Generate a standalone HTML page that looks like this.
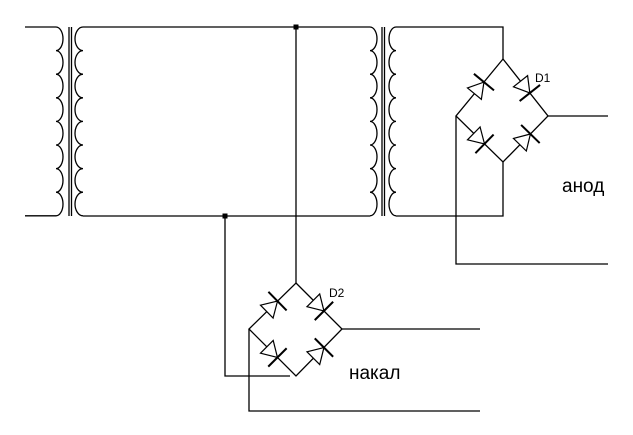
<!DOCTYPE html>
<html><head><meta charset="utf-8"><style>
html,body{margin:0;padding:0;background:#fff;}
svg{display:block;}
text{font-family:"Liberation Sans",Arial,sans-serif;fill:#000;}
</style></head><body>
<svg width="633" height="435" viewBox="0 0 633 435" xmlns="http://www.w3.org/2000/svg">
<g fill="none" stroke="#000" stroke-width="1.3">
<!-- left transformer -->
<path d="M25,27H56 a7,11.8 0 0 1 0,23.6 a7,11.8 0 0 1 0,23.6 a7,11.8 0 0 1 0,23.6 a7,11.8 0 0 1 0,23.6 a7,11.8 0 0 1 0,23.6 a7,11.8 0 0 1 0,23.6 a7,11.8 0 0 1 0,23.6 a7,11.8 0 0 1 0,23.6 H25"/>
<line x1="69" y1="27" x2="69" y2="216"/>
<line x1="71.5" y1="27" x2="71.5" y2="216"/>
<path d="M83,27 a8,11.8 0 0 0 0,23.6 a8,11.8 0 0 0 0,23.6 a8,11.8 0 0 0 0,23.6 a8,11.8 0 0 0 0,23.6 a8,11.8 0 0 0 0,23.6 a8,11.8 0 0 0 0,23.6 a8,11.8 0 0 0 0,23.6 a8,11.8 0 0 0 0,23.6"/>
<line x1="83" y1="27" x2="370" y2="27"/>
<line x1="83" y1="216" x2="370" y2="216"/>
<!-- right transformer -->
<path d="M370,27 a7,11.8 0 0 1 0,23.6 a7,11.8 0 0 1 0,23.6 a7,11.8 0 0 1 0,23.6 a7,11.8 0 0 1 0,23.6 a7,11.8 0 0 1 0,23.6 a7,11.8 0 0 1 0,23.6 a7,11.8 0 0 1 0,23.6 a7,11.8 0 0 1 0,23.6"/>
<line x1="382" y1="27" x2="382" y2="216"/>
<line x1="384.5" y1="27" x2="384.5" y2="216"/>
<path d="M396,27 a7,11.8 0 0 0 0,23.6 a7,11.8 0 0 0 0,23.6 a7,11.8 0 0 0 0,23.6 a7,11.8 0 0 0 0,23.6 a7,11.8 0 0 0 0,23.6 a7,11.8 0 0 0 0,23.6 a7,11.8 0 0 0 0,23.6 a7,11.8 0 0 0 0,23.6"/>
<path d="M396,27H503V59"/>
<path d="M396,216H503V162"/>
<!-- D1 bridge -->
<path d="M503,59L548,116L503,162L456,116Z"/>
<line x1="548" y1="116" x2="608" y2="116"/>
<path d="M456,116V264H608"/>
<!-- center wires -->
<line x1="296" y1="27" x2="296" y2="283"/>
<path d="M225,216V376H290"/>
<!-- D2 bridge -->
<path d="M296,283L342,329L296,376L249,329Z"/>
<line x1="342" y1="329" x2="480" y2="329"/>
<path d="M249,329V411H480"/>
</g>
<rect x="293.5" y="24.5" width="5" height="5" fill="#000"/>
<rect x="222.5" y="213.5" width="5" height="5" fill="#000"/>
<defs>
<g id="d"><polygon points="-8,-9 -8,9 7,0" fill="#fff" stroke="#000" stroke-width="1.2"/><line x1="7" y1="-13" x2="7" y2="13" stroke="#000" stroke-width="2"/></g>
</defs>
<use href="#d" transform="translate(479.5,87.5) rotate(-50.5)"/>
<use href="#d" transform="translate(525.5,87.5) rotate(51.7)"/>
<use href="#d" transform="translate(479.5,139) rotate(44.4)"/>
<use href="#d" transform="translate(525.5,139) rotate(-45.6)"/>
<use href="#d" transform="translate(272.5,306) rotate(-44.4)"/>
<use href="#d" transform="translate(319,306) rotate(45)"/>
<use href="#d" transform="translate(272.5,352.5) rotate(45)"/>
<use href="#d" transform="translate(319,352.5) rotate(-45)"/>
<text x="535" y="82" font-size="12">D1</text>
<text x="329" y="297" font-size="12">D2</text>
<text x="562" y="192" font-size="19">анод</text>
<text x="349" y="379" font-size="19">накал</text>
</svg>
</body></html>
